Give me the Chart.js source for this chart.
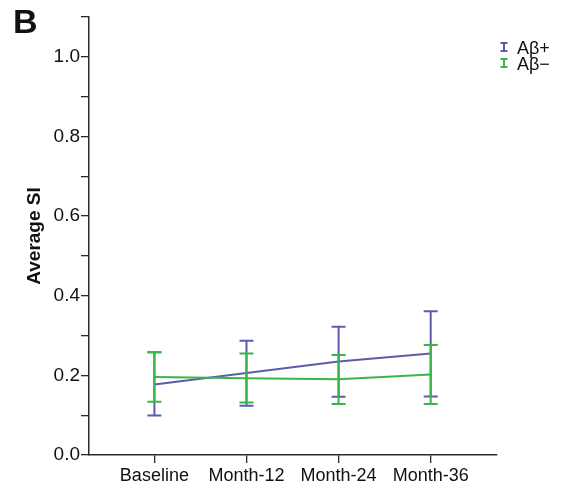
<!DOCTYPE html>
<html>
<head>
<meta charset="utf-8">
<script src="https://cdn.jsdelivr.net/npm/chart.js@4.4.1/dist/chart.umd.min.js"></script>
<style>
  html, body { margin: 0; padding: 0; background: #fff; }
  #wrap { width: 563px; height: 495px; }
</style>
</head>
<body>
<div id="wrap"><canvas id="chart"></canvas></div>
<script>
// dados
const categories = ['Baseline', 'Month-12', 'Month-24', 'Month-36'];
const abPosMean  = [0.177, 0.206, 0.235, 0.255];
const abPosUpper = [0.258, 0.287, 0.322, 0.361];
const abPosLower = [0.099, 0.124, 0.146, 0.147];
const abNegMean  = [0.196, 0.193, 0.190, 0.202];
const abNegUpper = [0.258, 0.255, 0.251, 0.276];
const abNegLower = [0.134, 0.132, 0.128, 0.128];
const yTicks = [0, 0.1, 0.2, 0.3, 0.4, 0.5, 0.6, 0.7, 0.8, 0.9, 1.0, 1.1];

const blue = '#5b5dac';
const green = '#3ab54a';
const axisColor = '#2a2a2a';
const fontFamily = "'Liberation Sans', Arial, Helvetica, sans-serif";

function toPoints(values) {
    return values.map((v, i) => ({ x: i, y: v }));
}

// barras de erro desenhadas logo depois de cada linha
const errorBars = {
    id: 'errorBars',
    afterDatasetDraw(chart, args) {
        const ds = chart.data.datasets[args.index];
        if (!ds.upper) return;
        const ctx = chart.ctx;
        const xs = chart.scales.x, ys = chart.scales.y;
        ctx.save();
        ctx.strokeStyle = ds.borderColor;
        ctx.lineWidth = 2;
        ds.upper.forEach((u, i) => {
            const x = xs.getPixelForValue(i);
            const yu = ys.getPixelForValue(u);
            const yl = ys.getPixelForValue(ds.lower[i]);
            ctx.beginPath();
            ctx.moveTo(x, yu); ctx.lineTo(x, yl);
            ctx.moveTo(x - 7, yu); ctx.lineTo(x + 7, yu);
            ctx.moveTo(x - 7, yl); ctx.lineTo(x + 7, yl);
            ctx.stroke();
        });
        ctx.restore();
    }
};

// letra do painel e legenda no canto
const decorations = {
    id: 'decorations',
    afterDraw(chart) {
        const ctx = chart.ctx;
        ctx.save();
        ctx.fillStyle = '#111';
        ctx.font = 'bold 34px ' + fontFamily;
        ctx.textBaseline = 'top';
        ctx.fillText('B', 13, 7);

        const rows = [...chart.data.datasets].sort((a, b) => a.legendRow - b.legendRow);
        rows.forEach((ds, i) => {
            const y = 47 + i * 16;
            ctx.strokeStyle = ds.borderColor;
            ctx.lineWidth = 2;
            ctx.beginPath();
            ctx.moveTo(504, y - 4); ctx.lineTo(504, y + 4);
            ctx.moveTo(500.5, y - 4); ctx.lineTo(507.5, y - 4);
            ctx.moveTo(500.5, y + 4); ctx.lineTo(507.5, y + 4);
            ctx.stroke();
            ctx.fillStyle = '#111';
            ctx.font = '18px ' + fontFamily;
            ctx.textBaseline = 'middle';
            ctx.fillText(ds.label, 517, y + 2);
        });
        ctx.restore();
    }
};

const chart = new Chart(document.getElementById('chart'), {
    type: 'line',
    data: {
        datasets: [
            {
                label: 'Aβ+',
                data: toPoints(abPosMean),
                upper: abPosUpper,
                lower: abPosLower,
                borderColor: blue,
                borderWidth: 2,
                pointRadius: 0,
                order: 2,
                legendRow: 0
            },
            {
                label: 'Aβ−',
                data: toPoints(abNegMean),
                upper: abNegUpper,
                lower: abNegLower,
                borderColor: green,
                borderWidth: 2,
                pointRadius: 0,
                order: 1,
                legendRow: 1
            }
        ]
    },
    options: {
        responsive: true,
        maintainAspectRatio: false,
        animation: false,
        layout: { padding: { top: 17, right: 66, left: 0, bottom: 0 } },
        plugins: {
            legend: { display: false },
            tooltip: { enabled: false }
        },
        scales: {
            x: {
                type: 'linear',
                min: -0.71,
                max: 3.72,
                afterBuildTicks: scale => {
                    scale.ticks = categories.map((c, i) => ({ value: i }));
                },
                afterFit: scale => { scale.height = 40; },
                ticks: {
                    callback: v => categories[v],
                    autoSkip: false,
                    maxRotation: 0,
                    color: '#111',
                    padding: 2,
                    font: { family: fontFamily, size: 18 }
                },
                grid: {
                    drawOnChartArea: false,
                    tickLength: 8,
                    color: axisColor,
                    lineWidth: 1.3
                },
                border: { display: true, color: axisColor, width: 1.5 }
            },
            y: {
                min: 0,
                max: 1.1,
                afterBuildTicks: scale => {
                    scale.ticks = yTicks.map(v => ({ value: v }));
                },
                afterFit: scale => { scale.width = 89; },
                ticks: {
                    callback: v => {
                        const k = Math.round(v * 10);
                        return (k % 2 === 0 && k <= 10) ? (k / 10).toFixed(1) : '';
                    },
                    color: '#111',
                    padding: 1,
                    font: { family: fontFamily, size: 19 }
                },
                grid: {
                    drawOnChartArea: false,
                    tickLength: 8,
                    color: axisColor,
                    lineWidth: 1.3
                },
                border: { display: true, color: axisColor, width: 1.5 },
                title: {
                    display: true,
                    text: 'Average SI',
                    color: '#111',
                    padding: { top: 23, bottom: 0 },
                    font: { family: fontFamily, size: 19, weight: 'bold' }
                }
            }
        }
    },
    plugins: [errorBars, decorations]
});
</script>
</body>
</html>
